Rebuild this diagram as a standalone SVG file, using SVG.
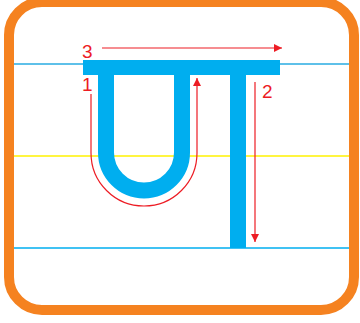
<svg xmlns="http://www.w3.org/2000/svg" width="360" height="323" viewBox="0 0 360 323">
<style>
.guide{stroke-width:1.5;fill:none}
.glyph{fill:none;stroke:#00AEEF;stroke-width:16}
.red{fill:none;stroke:#ED1C24;stroke-width:1.2}
.num{font-family:"Liberation Sans",Arial,sans-serif;font-size:19px;fill:#ED1C24}
</style>
<defs>
<marker id="ah" viewBox="0 0 8 8" refX="8" refY="4" markerWidth="8" markerHeight="8" markerUnits="userSpaceOnUse" orient="auto">
<path d="M0 0L8 4L0 8Z" fill="#ED1C24"/>
</marker>
</defs>
<rect width="360" height="323" fill="#fff"/>
<rect id="frame" x="9" y="2" width="345" height="308" rx="33" ry="33" fill="#fff" stroke="#F58220" stroke-width="10"/>
<g id="guides">
<line class="guide" x1="14" y1="64" x2="349" y2="64" stroke="#29ABE2"/>
<line class="guide" x1="14" y1="156" x2="349" y2="156" stroke="#FFF200"/>
<line class="guide" x1="14" y1="248" x2="349" y2="248" stroke="#00AEEF" stroke-width="2"/>
</g>
<g id="glyph">
<rect x="83" y="60" width="197" height="15" fill="#00AEEF"/>
<path class="glyph" d="M106 75V152.5A38 38 0 0 0 182 152.5V75"/>
<rect x="230" y="75" width="16" height="173" fill="#00AEEF"/>
</g>
<g id="connectors">
<path class="red" d="M91 94V153A53 53 0 0 0 197 153V78" marker-end="url(#ah)"/>
<path class="red" d="M255 82V242" marker-end="url(#ah)"/>
<path class="red" d="M102 48H282" marker-end="url(#ah)"/>
</g>
<g id="labels">
<text class="num" x="82" y="58">3</text>
<text class="num" x="82" y="91">1</text>
<text class="num" x="262" y="98">2</text>
</g>
</svg>
